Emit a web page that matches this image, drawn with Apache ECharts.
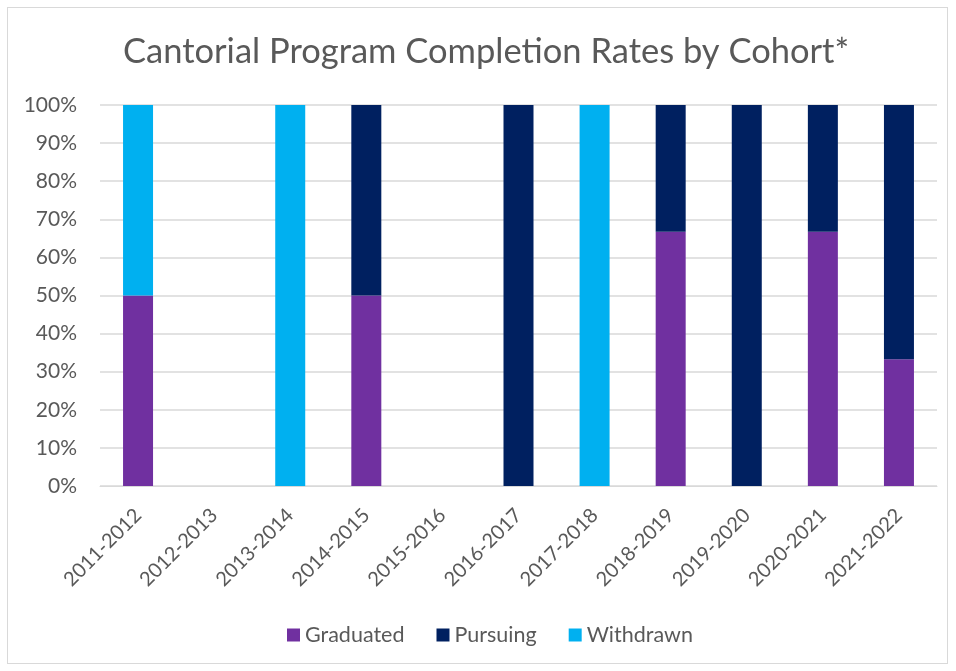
<!DOCTYPE html>
<html>
<head>
<meta charset="utf-8">
<script src="https://cdn.jsdelivr.net/npm/echarts@6/dist/echarts.min.js"></script>
<style>
  body { margin: 0; background: #fff; }
  #frame {
    position: absolute; left: 7px; top: 7px; width: 941px; height: 657px;
    border: 1px solid #d9d9d9; box-sizing: border-box;
  }
  #chart { position: absolute; left: 0; top: 0; width: 956px; height: 671px; }
</style>
</head>
<body>
<div id="frame"></div>
<div id="chart"></div>
<script>
  // cohorts and completion shares (%)
  const cohorts = ['2011-2012', '2012-2013', '2013-2014', '2014-2015', '2015-2016', '2016-2017',
                   '2017-2018', '2018-2019', '2019-2020', '2020-2021', '2021-2022'];
  const graduated = [50, 0, 0, 50, 0, 0, 0, 66.7, 0, 66.7, 33.3];
  const pursuing  = [0, 0, 0, 50, 0, 100, 0, 33.3, 100, 33.3, 66.7];
  const withdrawn = [50, 0, 100, 0, 0, 0, 100, 0, 0, 0, 0];

  const labelColor = '#595959';
  const font = 'Lato, "Open Sans", sans-serif';

  let chart = echarts.init(document.getElementById('chart'));

  function bar(name, data, color) {
    return {
      name: name,
      type: 'bar',
      stack: 'total',
      barWidth: 30,
      data: data,
      itemStyle: { color: color }
    };
  }

  let option = {
    animation: false,
    textStyle: { fontFamily: font },
    title: {
      text: 'Cantorial Program Completion Rates by Cohort*',
      left: 123,
      top: 34,
      padding: 0,
      textStyle: { color: labelColor, fontSize: 34.5, fontWeight: 'normal', fontFamily: font }
    },
    legend: {
      bottom: 25,
      left: 287,
      padding: 0,
      itemWidth: 13,
      itemHeight: 13,
      itemGap: 32,
      icon: 'rect',
      textStyle: { color: labelColor, fontSize: 21.5, fontFamily: font },
      data: ['Graduated', 'Pursuing', 'Withdrawn']
    },
    grid: { left: 100, right: 19, top: 105, bottom: 185 },
    xAxis: {
      type: 'category',
      data: cohorts,
      axisTick: { show: false },
      axisLine: { lineStyle: { color: '#d9d9d9' } },
      axisLabel: { rotate: 45, color: labelColor, fontSize: 20, margin: 26, interval: 0 }
    },
    yAxis: {
      type: 'value',
      min: 0,
      max: 100,
      interval: 10,
      axisLabel: { formatter: '{value}%', color: labelColor, fontSize: 21, margin: 23 },
      splitLine: { lineStyle: { color: '#d9d9d9', width: 1.5 } }
    },
    series: [
      bar('Graduated', graduated, '#7030A0'),
      bar('Pursuing', pursuing, '#002060'),
      bar('Withdrawn', withdrawn, '#00B0F0')
    ]
  };

  chart.setOption(option);
</script>
</body>
</html>
